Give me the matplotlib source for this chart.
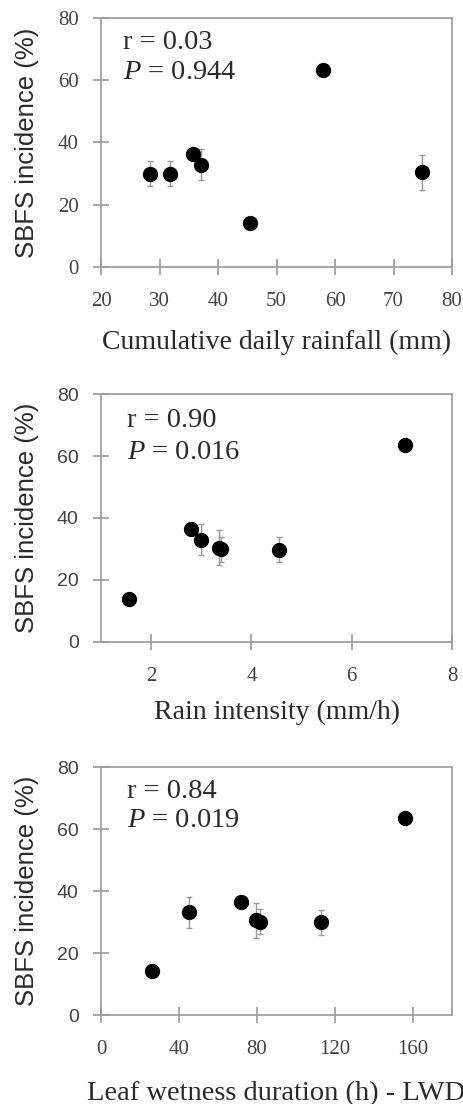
import matplotlib
matplotlib.use("Agg")
import matplotlib.pyplot as plt

plt.rcParams["mathtext.fontset"] = "custom"
plt.rcParams["mathtext.rm"] = "Liberation Serif"
plt.rcParams["mathtext.it"] = "Liberation Serif:italic"

# SBFS incidence vs weather variables (7 sites)
rain_total = [28.4, 31.8, 35.8, 37.1, 45.5, 58.0, 74.9]
rain_total_inc = [29.9, 29.9, 36.3, 32.8, 14.0, 63.4, 30.4]
rain_total_err = [4.0, 4.0, 2.0, 5.0, 1.5, 1.0, 5.6]

rain_int = [1.55, 2.79, 2.99, 3.35, 3.40, 4.54, 7.07]
rain_int_inc = [14.0, 36.4, 33.0, 30.4, 29.9, 29.8, 63.5]
rain_int_err = [1.5, 2.0, 5.0, 5.6, 4.0, 4.0, 1.0]

lwd = [26.2, 45.1, 72.0, 79.4, 81.5, 112.9, 155.7]
lwd_inc = [14.2, 33.2, 36.5, 30.6, 30.1, 29.9, 63.7]
lwd_err = [1.5, 5.0, 2.0, 5.6, 4.0, 4.0, 1.0]

stats = [("0.03", "0.944"), ("0.90", "0.016"), ("0.84", "0.019")]
xlabels = ["Cumulative daily rainfall (mm)", "Rain intensity (mm/h)",
           "Leaf wetness duration (h) - LWD"]

serif = "Liberation Serif"
sans = "Liberation Sans"
txt = "#2a2a2a"
grey = "#9a9a9a"

fig = plt.figure(figsize=(4.64, 11.04), dpi=100)

boxes = [[0.2177, 0.7582, 0.7565, 0.2255],
         [0.2177, 0.4185, 0.7565, 0.2246],
         [0.2177, 0.0806, 0.7565, 0.2246]]
data = [(rain_total, rain_total_inc, rain_total_err),
        (rain_int, rain_int_inc, rain_int_err),
        (lwd, lwd_inc, lwd_err)]
xlims = [(20, 80), (1, 8), (0, 180)]
xticks = [[20, 30, 40, 50, 60, 70, 80], [2, 4, 6, 8], [0, 40, 80, 120, 160]]
xlab_y = [-0.305, -0.286, -0.315]
xlab_size = [20, 20, 20.5]
stat_pos = [(0.063, 0.90, 0.78), (0.074, 0.895, 0.766), (0.074, 0.90, 0.786)]

for i in range(3):
    ax = fig.add_axes(boxes[i])
    x, y, e = data[i]
    ax.errorbar(x, y, yerr=e, fmt="none", ecolor=grey, elinewidth=1,
                capsize=2.5, capthick=1, zorder=2)
    ax.plot(x, y, "o", color="black", ms=10, zorder=3)
    ax.set_xlim(xlims[i])
    ax.set_ylim(0, 80)
    ax.set_xticks(xticks[i])
    ax.set_yticks([0, 20, 40, 60, 80])
    for s in ax.spines.values():
        s.set_color(grey)
        s.set_linewidth(1.2)
    ax.tick_params(direction="inout", length=12, width=1.2, color=grey,
                   labelcolor="#444444")
    ax.tick_params(axis="x", pad=12)
    ax.tick_params(axis="y", pad=10)
    for lab in ax.get_xticklabels():
        lab.set_fontfamily(serif)
        lab.set_fontsize(15)
    for lab in ax.get_yticklabels():
        lab.set_fontfamily(sans if i > 0 else serif)
        lab.set_fontsize(15 if i == 0 else 14)
    ax.text(-0.211, 0.5, "SBFS incidence (%)", rotation=90, ha="center",
            va="center", fontsize=18.5, family=sans, color=txt,
            transform=ax.transAxes)
    ax.text(0.5, xlab_y[i], xlabels[i], ha="center", va="center",
            fontsize=xlab_size[i], family=serif, color=txt,
            transform=ax.transAxes)
    sx, ry, py = stat_pos[i]
    ax.text(sx, ry, "r = " + stats[i][0], ha="left", va="center",
            fontsize=20.5, family=serif, color=txt, transform=ax.transAxes)
    ax.text(sx, py, "$\\mathit{P}$ = " + stats[i][1], ha="left", va="center",
            fontsize=20.5, family=serif, color=txt, transform=ax.transAxes)

fig.savefig("out.png", dpi=100)
